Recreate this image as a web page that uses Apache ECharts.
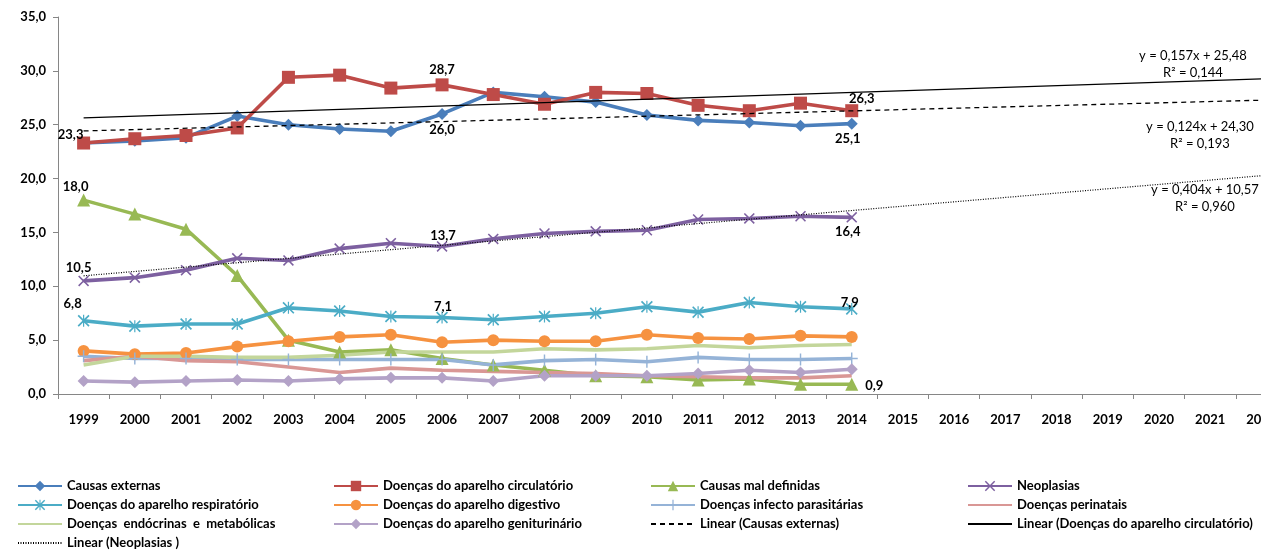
<!DOCTYPE html>
<html>
<head>
<meta charset="utf-8">
<script src="https://cdn.jsdelivr.net/npm/echarts@6/dist/echarts.min.js"></script>
<style>
  html, body { margin: 0; padding: 0; background: #ffffff; overflow: hidden; width: 1261px; height: 552px; }
  /* the plot runs on past the right edge of the page, so 2022 is cut in half */
  #chart { width: 1287px; height: 552px; }
</style>
</head>
<body>
<div id="chart"></div>
<script>
// Mortality share by cause group (%), 1999–2014, with linear trends projected to 2022
const years = ['1999','2000','2001','2002','2003','2004','2005','2006','2007','2008','2009','2010',
               '2011','2012','2013','2014','2015','2016','2017','2018','2019','2020','2021','2022'];

const causasExternas   = [23.3, 23.5, 23.8, 25.8, 25.0, 24.6, 24.4, 26.0, 28.0, 27.6, 27.1, 25.9, 25.4, 25.2, 24.9, 25.1];
const circulatorio     = [23.3, 23.7, 24.0, 24.7, 29.4, 29.6, 28.4, 28.7, 27.8, 26.9, 28.0, 27.9, 26.8, 26.3, 27.0, 26.3];
const malDefinidas     = [18.0, 16.7, 15.3, 11.0, 5.0, 3.9, 4.1, 3.3, 2.7, 2.2, 1.7, 1.6, 1.3, 1.4, 0.9, 0.9];
const neoplasias       = [10.5, 10.8, 11.5, 12.6, 12.4, 13.5, 14.0, 13.7, 14.4, 14.9, 15.1, 15.2, 16.2, 16.3, 16.5, 16.4];
const respiratorio     = [6.8, 6.3, 6.5, 6.5, 8.0, 7.7, 7.2, 7.1, 6.9, 7.2, 7.5, 8.1, 7.6, 8.5, 8.1, 7.9];
const digestivo        = [4.0, 3.7, 3.8, 4.4, 4.9, 5.3, 5.5, 4.8, 5.0, 4.9, 4.9, 5.5, 5.2, 5.1, 5.4, 5.3];
const infecto          = [3.5, 3.3, 3.3, 3.2, 3.2, 3.2, 3.2, 3.2, 2.7, 3.1, 3.2, 3.0, 3.4, 3.2, 3.2, 3.3];
const perinatais       = [3.1, 3.5, 3.1, 3.0, 2.5, 2.0, 2.4, 2.2, 2.1, 2.0, 1.9, 1.7, 1.6, 1.5, 1.5, 1.7];
const endocrinas       = [2.7, 3.5, 3.5, 3.4, 3.4, 3.6, 3.9, 3.9, 3.9, 4.2, 4.1, 4.2, 4.5, 4.3, 4.5, 4.6];
const geniturinario    = [1.2, 1.1, 1.2, 1.3, 1.2, 1.4, 1.5, 1.5, 1.2, 1.7, 1.7, 1.7, 1.9, 2.2, 2.0, 2.3];

// Linear trend fits (x = 1 for 1999): Causas externas, Circulatório, Neoplasias
const trendNames      = ['Linear (Causas externas)', 'Linear (Doenças do aparelho circulatório)', 'Linear (Neoplasias )'];
const trendSlopes     = [0.124, 0.157, 0.404];
const trendIntercepts = [24.30, 25.48, 10.57];
const trendR2         = [0.193, 0.144, 0.960];

const yTicks = [0, 5, 10, 15, 20, 25, 30, 35];

const FONT = 'Lato, "Open Sans", sans-serif';
const fmt = (v, d) => v.toFixed(d).replace('.', ',');

// Marker shapes
const X_PATH = 'path://M0,1 L1,0 L5,4 L9,0 L10,1 L6,5 L10,9 L9,10 L5,6 L1,10 L0,9 L4,5 Z';
const STAR_PATH = 'path://M0,1 L1,0 L5,4 L9,0 L10,1 L6,5 L10,9 L9,10 L5,6 L1,10 L0,9 L4,5 Z M4.5,0 L5.5,0 L5.5,10 L4.5,10 Z';
const PLUS_PATH = 'path://M4.4,0 L5.6,0 L5.6,4.4 L10,4.4 L10,5.6 L5.6,5.6 L5.6,10 L4.4,10 L4.4,5.6 L0,5.6 L0,4.4 L4.4,4.4 Z';

const labelStyle = { fontFamily: FONT, fontWeight: 'bold', fontSize: 13, color: '#000000' };

function withLabels(values, marks) {
  return values.map((v, i) => {
    const m = marks.find(k => k.i === i);
    if (!m) return v;
    return {
      value: v,
      label: Object.assign({ show: true, position: m.pos, offset: m.off,
        formatter: p => fmt(p.value, 1) }, labelStyle)
    };
  });
}

function lineSeries(name, values, color, symbol, size, marks, width) {
  return {
    name, type: 'line',
    data: withLabels(values, marks || []),
    symbol: symbol || 'none',
    symbolSize: size || 0,
    showSymbol: !!symbol,
    lineStyle: { color, width: width || 3.6 },
    // series without markers keep a plain line in the legend
    itemStyle: { color, borderWidth: 0, opacity: symbol ? 1 : 0 },
    emphasis: { disabled: true },
    animation: false,
    z: 2
  };
}

function trendSeries(k, type, width) {
  const n = years.length;
  const data = years.map((_, i) =>
    (i === 0 || i === n - 1) ? trendSlopes[k] * (i + 1) + trendIntercepts[k] : null);
  return {
    name: trendNames[k], type: 'line', data, connectNulls: true,
    symbol: 'none', showSymbol: false,
    lineStyle: { color: '#000000', width, type },
    itemStyle: { color: '#000000', opacity: 0 },
    emphasis: { disabled: true },
    animation: false,
    z: 5
  };
}

const series = [
  lineSeries('Causas externas', causasExternas, '#4A7EBB', 'diamond', 12,
    [{ i: 7, pos: 'bottom', off: [0, -2] }, { i: 15, pos: 'bottom', off: [-4, -2] }]),
  lineSeries('Doenças do aparelho circulatório', circulatorio, '#BE4B48', 'rect', 13,
    [{ i: 0, pos: 'top', off: [-13, 10] }, { i: 7, pos: 'top', off: [0, 3] }, { i: 15, pos: 'top', off: [10, 6] }]),
  lineSeries('Causas mal definidas', malDefinidas, '#98B954', 'triangle', 13,
    [{ i: 0, pos: 'top', off: [-8, 5] }, { i: 15, pos: 'right', off: [2, 2] }]),
  lineSeries('Neoplasias', neoplasias, '#7D60A0', X_PATH, 11,
    [{ i: 0, pos: 'top', off: [-5, 4] }, { i: 7, pos: 'top', off: [1, 6] }, { i: 15, pos: 'bottom', off: [-4, -3] }]),
  lineSeries('Doenças do aparelho respiratório', respiratorio, '#4BACC6', STAR_PATH, 12,
    [{ i: 0, pos: 'top', off: [-11, 1] }, { i: 7, pos: 'top', off: [1, 7] }, { i: 15, pos: 'top', off: [-2, 11] }]),
  lineSeries('Doenças do aparelho digestivo', digestivo, '#F69240', 'circle', 12),
  lineSeries('Doenças infecto parasitárias', infecto, '#95B3D7', PLUS_PATH, 12),
  lineSeries('Doenças perinatais', perinatais, '#D99795', null, 0),
  lineSeries('Doenças  endócrinas  e  metabólicas', endocrinas, '#C3D69B', null, 0),
  lineSeries('Doenças do aparelho geniturinário', geniturinario, '#B3A2C7', 'diamond', 12),
  trendSeries(0, [5, 4], 1.3),
  trendSeries(1, 'solid', 1.3),
  trendSeries(2, [1, 1.5], 1.2)
];

const legendText = { fontFamily: FONT, fontWeight: 'bold', fontSize: 13, color: '#000000', lineHeight: 14 };
function legendCol(left, names) {
  return {
    orient: 'vertical', left, top: 479, itemWidth: 44, itemHeight: 13, itemGap: 5,
    selectedMode: false, padding: 0, textStyle: legendText,
    data: names
  };
}

// centre points of the trend equation blocks
const trendLabelPos = [[1200, 127], [1193, 56], [1205, 190]];
const graphic = trendLabelPos.map((p, k) => ({
  type: 'text', x: p[0], y: p[1] - 8,
  style: {
    text: 'y = ' + fmt(trendSlopes[k], 3) + 'x + ' + fmt(trendIntercepts[k], 2) + '\nR² = ' + fmt(trendR2[k], 3),
    fontFamily: FONT, fontSize: 13, fill: '#000000', align: 'center', lineHeight: 16.5
  },
  z: 10
}));

const option = {
  backgroundColor: '#ffffff',
  animation: false,
  grid: { left: 58, top: 17, right: 0, bottom: 158, containLabel: false },
  xAxis: {
    type: 'category', data: years, boundaryGap: true,
    axisLine: { lineStyle: { color: '#868686', width: 1 } },
    axisTick: { show: true, length: 5, lineStyle: { color: '#868686' } },
    axisLabel: { interval: 0, margin: 19, fontFamily: FONT, fontWeight: 'bold', fontSize: 13, color: '#000000' },
    splitLine: { show: false }
  },
  yAxis: {
    type: 'value', min: yTicks[0], max: yTicks[yTicks.length - 1], interval: yTicks[1] - yTicks[0],
    axisLine: { show: true, lineStyle: { color: '#868686', width: 1 } },
    axisTick: { show: true, length: 5, lineStyle: { color: '#868686' } },
    axisLabel: { margin: 12, fontFamily: FONT, fontWeight: 'bold', fontSize: 13, color: '#000000',
                 formatter: v => fmt(v, 1) },
    splitLine: { show: false }
  },
  legend: [
    legendCol(17, ['Causas externas', 'Doenças do aparelho respiratório', 'Doenças  endócrinas  e  metabólicas', 'Linear (Neoplasias )']),
    legendCol(333, ['Doenças do aparelho circulatório', 'Doenças do aparelho digestivo', 'Doenças do aparelho geniturinário']),
    legendCol(650, ['Causas mal definidas', 'Doenças infecto parasitárias', 'Linear (Causas externas)']),
    legendCol(967, ['Neoplasias', 'Doenças perinatais', 'Linear (Doenças do aparelho circulatório)'])
  ],
  graphic,
  series
};

const chart = echarts.init(document.getElementById('chart'), null, { renderer: 'canvas' });
chart.setOption(option);
</script>
</body>
</html>
